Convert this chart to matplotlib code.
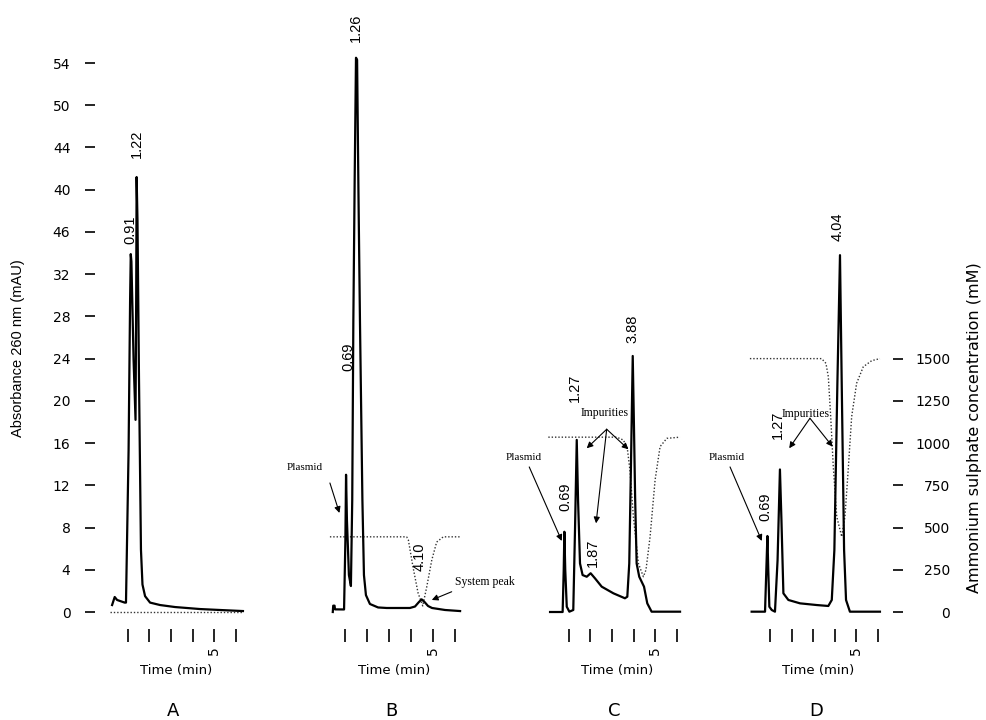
import matplotlib
matplotlib.use('Agg')
import matplotlib.pyplot as plt
from matplotlib import font_manager

# ---- data (time in min, absorbance in mAU, salt in mM) ----
A_time = [0.29, 0.41, 0.52, 0.87, 0.93, 1.05, 1.12, 1.15, 1.18, 1.28, 1.37, 1.40, 1.42,
          1.46, 1.53, 1.62, 1.69, 1.81, 2.04, 2.50, 3.19, 4.34, 5.26, 6.32]
A_abs = [0.66, 1.42, 1.14, 0.89, 0.89, 15.3, 29.6, 33.9, 33.2, 23.9, 18.2, 29.6, 41.2,
         37.1, 22.0, 5.9, 2.6, 1.5, 0.89, 0.66, 0.47, 0.28, 0.19, 0.09]
A_grad_time = [0.19, 6.32]
A_grad = [0, 0]

B_time = [0.47, 0.49, 0.55, 0.57, 0.98, 1.04, 1.07, 1.11, 1.20, 1.29, 1.35, 1.40, 1.46,
          1.52, 1.57, 1.63, 1.70, 1.81, 1.88, 1.97, 2.15, 2.52, 2.91, 3.96, 4.19, 4.37,
          4.49, 4.62, 4.78, 4.96, 5.55, 6.23]
B_abs = [0.0, 0.6, 0.6, 0.25, 0.24, 6.8, 13.0, 8.7, 3.5, 2.46, 10.6, 27.5, 40.9,
         52.5, 52.3, 40.0, 27.5, 10.6, 3.5, 1.6, 0.76, 0.43, 0.38, 0.38, 0.52, 0.95,
         1.2, 0.95, 0.57, 0.38, 0.19, 0.09]
B_grad_time = [0.34, 3.81, 3.89, 4.10, 4.33, 4.54, 4.72, 4.95, 5.17, 5.47, 6.23]
B_grad = [445, 445, 426, 266, 112, 36, 148, 308, 414, 445, 445]

C_time = [0.15, 0.73, 0.78, 0.81, 0.85, 0.92, 1.04, 1.22, 1.30, 1.38, 1.44, 1.53, 1.65,
          1.84, 2.02, 2.22, 2.53, 3.07, 3.60, 3.71, 3.80, 3.88, 3.96, 4.02, 4.07, 4.14,
          4.26, 4.48, 4.63, 4.83, 6.14]
C_abs = [0.0, 0.0, 4.0, 7.6, 4.0, 0.5, 0.03, 0.19, 7.8, 16.3, 10.6, 4.6, 3.5,
         3.34, 3.67, 3.19, 2.4, 1.77, 1.3, 1.45, 4.6, 14.1, 24.25, 17.2, 10.9, 4.6,
         3.34, 2.4, 0.82, 0.03, 0.03]
C_grad_time = [0.07, 3.22, 3.53, 3.71, 3.83, 3.99, 4.22, 4.45, 4.57, 4.76, 4.99, 5.22, 5.53, 6.14]
C_grad = [1035, 1035, 1018, 969, 841, 564, 288, 209, 249, 446, 781, 979, 1028, 1035]

D_time = [0.15, 0.77, 0.83, 0.88, 0.92, 0.97, 1.08, 1.23, 1.35, 1.46, 1.53, 1.62, 1.85,
          2.39, 3.16, 3.70, 3.86, 3.98, 4.12, 4.24, 4.32, 4.43, 4.52, 4.70, 6.09]
D_abs = [0.03, 0.03, 4.0, 7.2, 4.0, 0.5, 0.19, 0.03, 4.9, 13.5, 8.7, 1.77, 1.14,
         0.82, 0.66, 0.57, 1.14, 5.87, 21.7, 33.8, 21.7, 5.87, 1.14, 0.03, 0.03]
D_grad_time = [0.07, 3.39, 3.59, 3.70, 3.81, 3.93, 4.09, 4.32, 4.47, 4.63, 4.78, 5.01,
               5.32, 5.71, 6.09]
D_grad = [1500, 1500, 1472, 1393, 1156, 860, 564, 446, 564, 860, 1156, 1354, 1452, 1488, 1500]

panel_names = ['A', 'B', 'C', 'D']
x_ticks = [1, 2, 3, 4, 5, 6]
x_tick_labels = ['', '', '', '', '5', '']
y_ticks = [0, 4, 8, 12, 16, 20, 24, 28, 32, 36, 40, 44, 48, 52]
y_tick_labels = ['0', '4', '8', '12', '16', '20', '24', '28', '32', '46', '40', '44', '50', '54']
mm_ticks = [0, 250, 500, 750, 1000, 1250, 1500]

# peak retention times written above the peaks: (text, time, height)
A_peaks = [('0.91', 1.115, 36.2), ('1.22', 1.44, 44.3)]
B_peaks = [('0.69', 1.16, 24.2), ('1.26', 1.52, 55.3), ('4.10', 4.42, 5.2)]
C_peaks = [('0.69', 0.84, 10.9), ('1.27', 1.30, 21.2), ('1.87', 2.13, 5.6), ('3.88', 3.93, 26.8)]
D_peaks = [('0.69', 0.77, 9.95), ('1.27', 1.37, 17.7), ('4.04', 4.15, 36.5)]

# ---- fonts ----
names = {f.name for f in font_manager.fontManager.ttflist}
NARROW = 'Liberation Sans Narrow' if 'Liberation Sans Narrow' in names else 'Liberation Sans'
SERIF = 'Liberation Serif'
SANS = 'DejaVu Sans'
narrow_size = 12 if NARROW == 'Liberation Sans Narrow' else 10.5

# ---- layout (pixels of a 986x720 canvas) ----
W, H = 986, 720
PX_UNIT = 42.23 / 4          # pixels per mAU
Y0 = 612                     # pixel row of zero absorbance
BOT = 629                    # pixel row of axes bottom
MM_PER_UNIT = 250 / 4
ylim = ((Y0 - BOT) / PX_UNIT, Y0 / PX_UNIT)

# left px, right px, px of t=1, px per minute
boxes = [(95, 250, 127.5, 21.7), (300, 470, 344.5, 22.1),
         (500, 700, 568.5, 21.7), (700, 893, 770, 21.6)]

traces = [(A_time, A_abs, A_grad_time, A_grad, A_peaks),
          (B_time, B_abs, B_grad_time, B_grad, B_peaks),
          (C_time, C_abs, C_grad_time, C_grad, C_peaks),
          (D_time, D_abs, D_grad_time, D_grad, D_peaks)]

fig = plt.figure(figsize=(W / 100, H / 100), dpi=100)
axes = []
for i, (box, tr) in enumerate(zip(boxes, traces)):
    L, R, x1, s = box
    ax = fig.add_axes([L / W, (H - BOT) / H, (R - L) / W, BOT / H])
    tw = ax.twinx()
    ax.set_zorder(tw.get_zorder() + 1)
    ax.patch.set_visible(False)
    for a in (ax, tw):
        for sp in a.spines.values():
            sp.set_visible(False)
    ax.set_xlim(1 + (L - x1) / s, 1 + (R - x1) / s)
    ax.set_ylim(*ylim)
    tw.set_ylim(ylim[0] * MM_PER_UNIT, ylim[1] * MM_PER_UNIT)

    t, a_, gt, g, peaks = tr
    ax.plot(t, a_, color='black', lw=1.6, solid_joinstyle='round')
    tw.plot(gt, g, color='#333333', lw=1.0, linestyle=(0, (1, 1.4)))

    for lab, pt, pv in peaks:
        ax.text(pt, pv, lab, rotation=90, ha='center', va='center',
                family=NARROW, fontsize=narrow_size)

    ax.set_xticks(x_ticks)
    ax.set_xticklabels(x_tick_labels, rotation=90, family=SANS, fontsize=10)
    ax.tick_params(axis='x', direction='out', length=9.4, width=1.2, pad=3)
    ax.text(3.25, -0.066, 'Time (min)', transform=ax.get_xaxis_transform(),
            ha='center', va='center', family=SANS, fontsize=9.5)
    ax.text(3.12, -0.131, panel_names[i], transform=ax.get_xaxis_transform(),
            ha='center', va='center', family=SANS, fontsize=13)

    if i == 0:
        ax.set_yticks(y_ticks)
        ax.set_yticklabels(y_tick_labels, family=SANS, fontsize=10)
        ax.tick_params(axis='y', direction='out', length=7.2, width=1.2, pad=10.5)
    else:
        ax.set_yticks([])
    if i == 3:
        tw.set_yticks(mm_ticks)
        tw.set_yticklabels([str(m) for m in mm_ticks], family=SANS, fontsize=10, ha='right')
        tw.tick_params(axis='y', direction='out', length=7.2, width=1.2, pad=34)
    else:
        tw.set_yticks([])
    axes.append(ax)

axA, axB, axC, axD = axes
arrow = dict(arrowstyle='-|>', lw=0.8, color='black', mutation_scale=9,
             shrinkA=0, shrinkB=0)

# B annotations
axB.text(-0.79, 13.64, 'Plasmid', ha='center', va='center', family=SERIF, fontsize=8)
axB.annotate('', xy=(0.77, 9.38), xytext=(0.34, 12.22), arrowprops=arrow)
axB.text(5.98, 2.8, 'System peak', ha='left', va='center', family=SERIF, fontsize=8.5)
axB.annotate('', xy=(4.95, 1.14), xytext=(5.85, 1.92), arrowprops=arrow)

# C annotations
axC.text(-1.05, 14.59, 'Plasmid', ha='center', va='center', family=SERIF, fontsize=8)
axC.annotate('', xy=(0.69, 6.73), xytext=(-0.81, 13.74), arrowprops=arrow)
axC.text(2.66, 18.85, 'Impurities', ha='center', va='center', family=SERIF, fontsize=8.5)
for end in [(1.84, 15.51), (2.27, 8.40), (3.76, 15.41)]:
    axC.annotate('', xy=end, xytext=(2.76, 17.31), arrowprops=arrow)

# D annotations
axD.text(-0.99, 14.59, 'Plasmid', ha='center', va='center', family=SERIF, fontsize=8)
axD.annotate('', xy=(0.62, 6.73), xytext=(-0.85, 13.74), arrowprops=arrow)
axD.text(2.67, 18.76, 'Impurities', ha='center', va='center', family=SERIF, fontsize=8.5)
for end in [(1.89, 15.51), (3.90, 15.66)]:
    axD.annotate('', xy=end, xytext=(2.85, 18.35), arrowprops=arrow)

fig.text(18 / W, 1 - 348 / H, 'Absorbance 260 nm (mAU)', rotation=90, ha='center',
         va='center', family=NARROW, fontsize=narrow_size)
fig.text(975 / W, 1 - 428 / H, 'Ammonium sulphate concentration (mM)', rotation=90,
         ha='center', va='center', family=SANS, fontsize=11.5)

fig.savefig('out.png', dpi=100)
